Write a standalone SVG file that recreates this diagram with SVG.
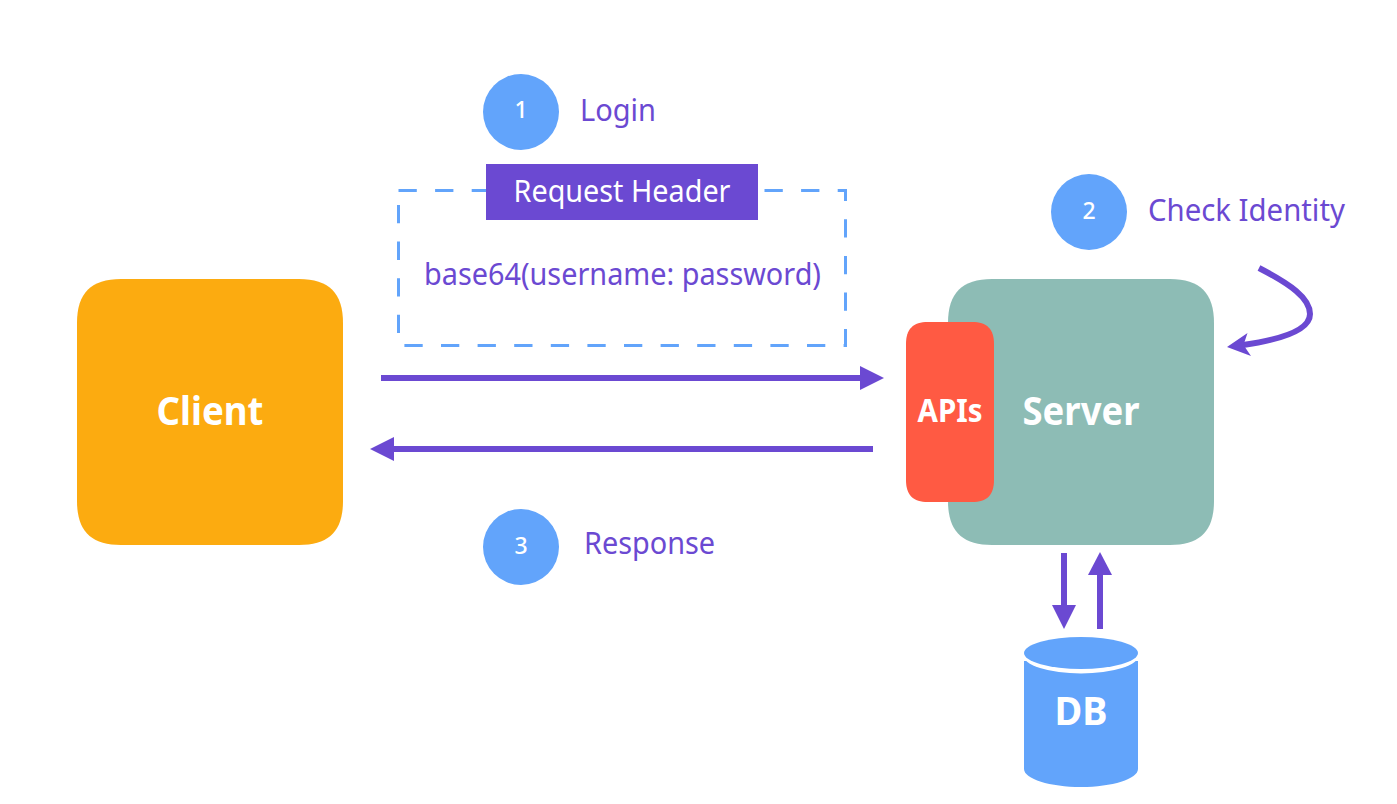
<svg xmlns="http://www.w3.org/2000/svg" width="1397" height="804" viewBox="0 0 1397 804">
<style>
text{font-family:"Noto Sans","Open Sans",sans-serif}
.lbl{fill:#6b49d2;font-size:30px}
.num{fill:#fff;font-size:23px;font-weight:500;text-anchor:middle}
.big{fill:#fff;font-weight:700;text-anchor:middle}
.step{fill:#62a4fb}
.conn{fill:none;stroke:#6b49d2;stroke-width:6}
.head{fill:#6b49d2}
</style>
<rect width="1397" height="804" fill="#fff"/>
<g id="client"><path d="M121 279H299C329 279 343 293 343 323V501C343 531 329 545 299 545H121C91 545 77 531 77 501V323C77 293 91 279 121 279Z" fill="#fcab10"/><text class="big" x="210" y="425" font-size="39" textLength="107" lengthAdjust="spacingAndGlyphs">Client</text></g>
<g id="server"><path d="M992 279H1170C1200 279 1214 293 1214 323V501C1214 531 1200 545 1170 545H992C962 545 948 531 948 501V323C948 293 962 279 992 279Z" fill="#8dbcb5"/><text class="big" x="1081" y="425" font-size="39" textLength="117" lengthAdjust="spacingAndGlyphs">Server</text></g>
<g id="apis"><path d="M928 322H972C987 322 994 329 994 344V480C994 495 987 502 972 502H928C913 502 906 495 906 480V344C906 329 913 322 928 322Z" fill="#ff5a43"/><text class="big" x="950" y="422" font-size="33" textLength="65" lengthAdjust="spacingAndGlyphs">APIs</text></g>
<g id="db"><path d="M1024 661V769C1024 779 1050 787 1081 787S1138 779 1138 769V661Z" fill="#62a4fb"/><ellipse cx="1081" cy="655" rx="58" ry="18.500" fill="#fff"/><ellipse cx="1081" cy="653" rx="57" ry="16" fill="#62a4fb"/><text class="big" x="1081" y="725" font-size="39" textLength="53" lengthAdjust="spacingAndGlyphs">DB</text></g>
<g id="step1"><circle class="step" cx="521" cy="112" r="38"/><text class="num" x="521" y="118">1</text><text class="lbl" x="580" y="121" textLength="76" lengthAdjust="spacingAndGlyphs">Login</text></g>
<g id="step2"><circle class="step" cx="1089" cy="212" r="38"/><text class="num" x="1089" y="218.500">2</text><text class="lbl" x="1148" y="221" textLength="197" lengthAdjust="spacingAndGlyphs">Check Identity</text></g>
<g id="step3"><circle class="step" cx="521" cy="547" r="38"/><text class="num" x="521" y="553.500">3</text><text class="lbl" x="584" y="554" textLength="131" lengthAdjust="spacingAndGlyphs">Response</text></g>
<g id="request-header">
<rect x="398.500" y="190.500" width="447" height="155" fill="none" stroke="#62a4fb" stroke-width="3" stroke-dasharray="18.300 18.300"/>
<rect x="486" y="164" width="272" height="56" fill="#6b49d2"/>
<text x="622" y="202" fill="#fff" font-size="30" text-anchor="middle" textLength="217" lengthAdjust="spacingAndGlyphs">Request Header</text>
<text class="lbl" x="424" y="285" textLength="397" lengthAdjust="spacingAndGlyphs">base64(username: password)</text>
</g>
<g id="connectors">
<path class="conn" d="M381 378H862"/><path class="head" d="M860 366L884 378L860 390Z"/>
<path class="conn" d="M873 449H392"/><path class="head" d="M394 437L370 449L394 461Z"/>
<path class="conn" d="M1064 553V606"/><path class="head" d="M1052 605L1064 629L1076 605Z"/>
<path class="conn" d="M1100 629V574"/><path class="head" d="M1088 575L1100 552L1112 575Z"/>
<path class="conn" d="M1259 268C1290 284 1310 298 1310 314C1310 331 1278 340 1243 345"/><path class="head" d="M1227 347L1247.500 333L1243.500 345L1251 356Z"/>
</g>
</svg>
